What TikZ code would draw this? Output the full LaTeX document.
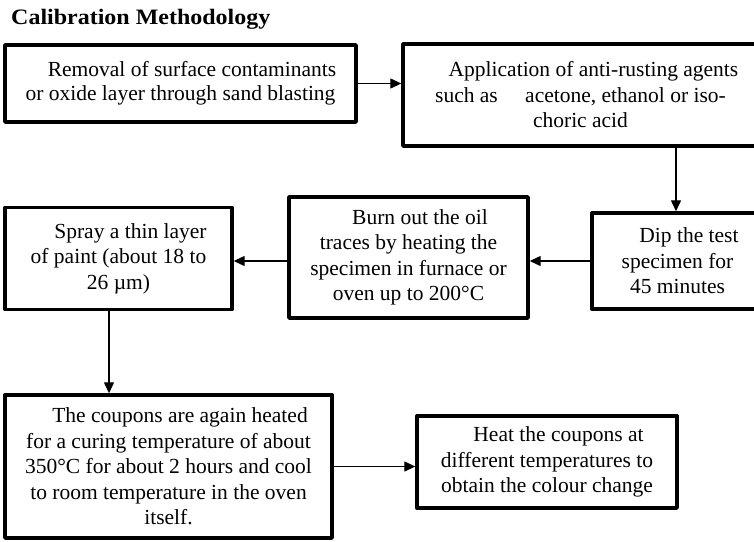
\documentclass[tikz,border=0pt]{standalone}
\usepackage{fontspec}
\setmainfont{Liberation Serif}
\usetikzlibrary{arrows.meta}

\tikzset{
  stepbox/.style={draw=black, line width=3.4pt, line join=round, inner sep=0pt,
    align=center, font=\fontsize{21.5}{25.5}\selectfont},
  arr/.style={draw=black, line width=1.3pt, -{Triangle[length=11pt,width=10pt]}},
}
\newcommand{\firstind}{\hspace*{23pt}}

\begin{document}
\begin{tikzpicture}[x=1pt, y=-1pt]
  \useasboundingbox (0,0) rectangle (754,541);

  % heading
  \node[anchor=base west, inner sep=0pt, xscale=1.09, transform shape,
        font=\fontsize{22}{25}\selectfont\bfseries]
    (title) at (11,24) {Calibration Methodology};

  % process steps
  \node[stepbox, minimum width=351pt, minimum height=77pt, font=\fontsize{21.5}{24}\selectfont]
    (A) at (180.5,83.5)
    {\firstind Removal of surface contaminants\\or oxide layer through sand blasting};
  \node[stepbox, minimum width=355pt, minimum height=102pt]
    (B) at (580.5,95)
    {\hspace*{26pt}Application of anti-rusting agents\\such as\hspace{22pt} acetone, ethanol or iso-\\choric acid};
  \node[stepbox, minimum width=171pt, minimum height=96pt]
    (C) at (677.5,261)
    {\firstind Dip the test\\specimen for\\45 minutes};
  \node[stepbox, minimum width=239pt, minimum height=121pt]
    (D) at (408.5,257.5)
    {\firstind Burn out the oil\\traces by heating the\\specimen in furnace or\\oven up to 200°C};
  \node[stepbox, minimum width=227pt, minimum height=102pt]
    (E) at (118.5,258.5)
    {\hspace*{24pt}Spray a thin layer\\of paint (about 18 to\\26 µm)};
  \node[stepbox, minimum width=327pt, minimum height=143pt]
    (F) at (168.5,466.5)
    {\firstind The coupons are again heated\\for a curing temperature of about\\350°C for about 2 hours and cool\\to room temperature in the oven\\itself.};
  \node[stepbox, minimum width=260pt, minimum height=92pt]
    (G) at (547,462)
    {\firstind Heat the coupons at\\different temperatures to\\obtain the colour change};

  % flow connectors
  \draw[arr] (A.east) -- (A.east -| B.west);
  \draw[arr] ([xshift=-1.5pt]B.south -| C.north) -- ([xshift=-1.5pt]C.north);
  \draw[arr] (C.west) -- (C.west -| D.east);
  \draw[arr] (C.west -| D.west) -- (C.west -| E.east);
  \draw[arr] ([xshift=-9.5pt]E.south) -- ([xshift=-9.5pt]E.south |- F.north);
  \draw[arr] (F.east) -- (F.east -| G.west);
\end{tikzpicture}
\end{document}
